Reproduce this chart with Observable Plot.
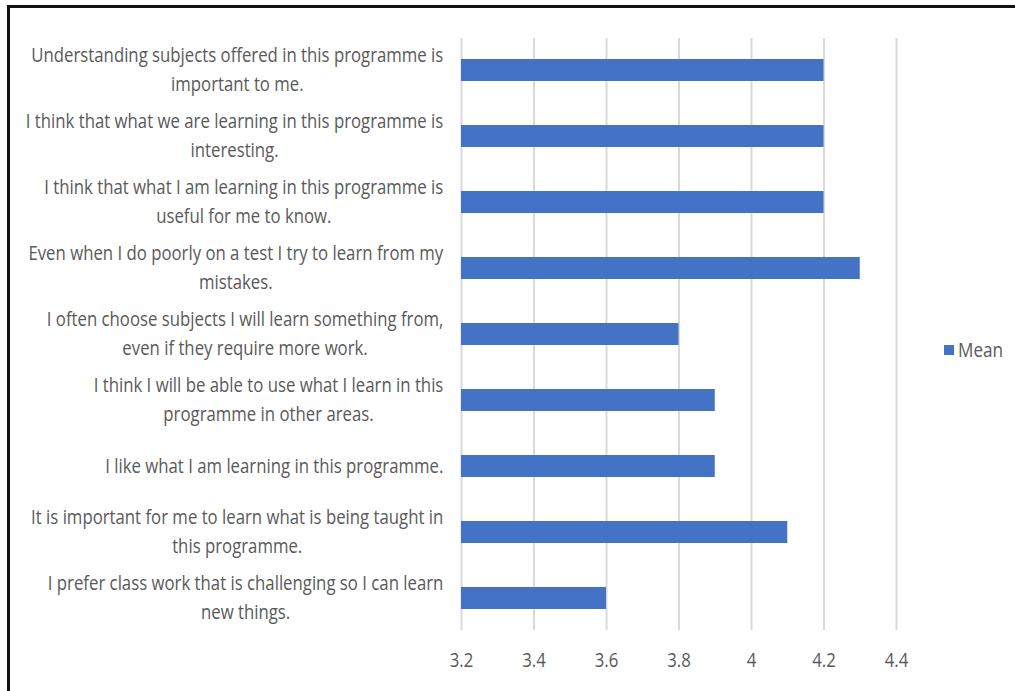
<!DOCTYPE html>
<html>
<head>
<meta charset="utf-8">
<script src="https://cdn.jsdelivr.net/npm/d3@7"></script>
<script src="https://cdn.jsdelivr.net/npm/@observablehq/plot@0.6"></script>
<style>
  html, body { margin: 0; padding: 0; background: #fff; }
  #wrap { position: relative; width: 1015px; height: 691px; overflow: hidden; }
  #frame { position: absolute; left: 7px; top: 5px; width: 1100px; height: 800px;
           border-top: 3px solid #111; border-left: 3px solid #111; box-sizing: border-box; }
  #chart { position: absolute; left: 0; top: 0; }
  #legend { position: absolute; left: 944px; top: 336px; font-family: "Open Sans", sans-serif;
            font-size: 19.5px; color: #595959; display: flex; align-items: center; }
  #legend .sw { width: 10px; height: 10px; background: #4472C4; margin-right: 4px; }
  #legend .tx { display: inline-block; transform: scaleX(0.88); transform-origin: left center; }
</style>
</head>
<body>
<div id="wrap">
  <div id="frame"></div>
  <div id="chart"></div>
  <div id="legend"><span class="sw"></span><span class="tx" id="legendText"></span></div>
</div>
<script>
const categories = [
  "Understanding subjects offered in this programme is\nimportant to me.",
  "I think that what we are learning in this programme is\ninteresting.",
  "I think that what I am learning in this programme is\nuseful for me to know.",
  "Even when I do poorly on a test I try to learn from my\nmistakes.",
  "I often choose subjects I will learn something from,\neven if they require more work.",
  "I think I will be able to use what I learn in this\nprogramme in other areas.",
  "I like what I am learning in this programme.",
  "It is important for me to learn what is being taught in\nthis programme.",
  "I prefer class work that is challenging so I can learn\nnew things."
];
const meanValues = [4.2, 4.2, 4.2, 4.3, 3.8, 3.9, 3.9, 4.1, 3.6];
const xTicks = [3.2, 3.4, 3.6, 3.8, 4, 4.2, 4.4];
const seriesName = "Mean";

document.getElementById("legendText").textContent = seriesName;

const data = categories.map((c, i) => ({label: c, value: meanValues[i]}));

const MARGIN_LEFT = 461;
const LABEL_GAP = 18;      // space between label block and the axis
const CONDENSE = 0.86;     // horizontal glyph compression (narrow face in reference)

const chart = Plot.plot({
  width: 1015,
  height: 691,
  marginLeft: MARGIN_LEFT,
  marginRight: 119,
  marginTop: 38,
  marginBottom: 61,
  style: {fontFamily: '"Open Sans", sans-serif', background: "transparent"},
  x: {domain: [xTicks[0], xTicks[xTicks.length - 1]], ticks: xTicks},
  y: {domain: categories, paddingInner: 0.665, paddingOuter: 0.3, label: null},
  marks: [
    Plot.gridX(xTicks, {stroke: "#d9d9d9", strokeOpacity: 1, strokeWidth: 2}),
    Plot.barX(data, {x: "value", y: "label", fill: "#4472C4", clip: true}),
    Plot.axisX(xTicks, {tickSize: 0, tickPadding: 23, fontSize: 19.5, fill: "#595959", label: null, tickFormat: d => String(d)}),
    Plot.axisY({tickSize: 0, tickPadding: 0, textAnchor: "middle", dy: -3, fontSize: 19.5, fill: "#595959", label: null, lineHeight: 1.49})
  ]
});
document.getElementById("chart").appendChild(chart);

// condense glyphs horizontally
chart.querySelectorAll('g[aria-label="x-axis tick label"] text').forEach(t => {
  t.setAttribute("transform", (t.getAttribute("transform") || "") + ` scale(${CONDENSE},1)`);
});
// y labels: lines centred within their block, block right-aligned against the axis
chart.querySelectorAll('g[aria-label="y-axis tick label"] text').forEach(t => {
  const w = t.getBBox().width * CONDENSE;
  const shift = -LABEL_GAP - w / 2;
  t.setAttribute("transform", `translate(${shift},0) ` + (t.getAttribute("transform") || "") + ` scale(${CONDENSE},1)`);
});
</script>
</body>
</html>
